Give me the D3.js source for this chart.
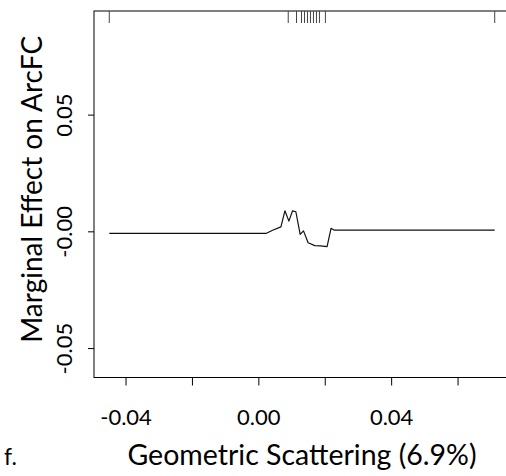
<!DOCTYPE html>
<html>
<head>
<meta charset="utf-8">
<script src="https://cdn.jsdelivr.net/npm/d3@7"></script>
<style>
  html, body { margin: 0; padding: 0; background: #fff; }
  svg { display: block; }
  text { font-family: Lato, "Open Sans", sans-serif; fill: #000; }
</style>
</head>
<body>
<svg id="chart" width="506" height="476"></svg>
<script>
// Marginal effect curve (x = geometric scattering, y = effect on ArcFC)
const effectX = [-0.0449, 0.0023, 0.0043, 0.0068, 0.0080, 0.0092, 0.0103, 0.0113, 0.0126,
                 0.0136, 0.0150, 0.0170, 0.0187, 0.0207, 0.0219, 0.0229, 0.0712];
const effectY = [-0.0007, -0.0007, 0.0007, 0.0021, 0.0090, 0.0046, 0.0090, 0.0086, -0.0011,
                 0.0004, -0.0047, -0.0059, -0.0060, -0.0063, 0.0015, 0.0007, 0.0007];

// Observed predictor values shown as a rug along the top edge
const rugX = [-0.0449, 0.0090, 0.0115, 0.0130, 0.0139, 0.0148, 0.0157, 0.0166, 0.0175, 0.0184, 0.0202, 0.0712];

const xTicks = [-0.04, -0.02, 0.00, 0.02, 0.04, 0.06];
const xTickLabels = ["-0.04", "", "0.00", "", "0.04", ""];
const yTicks = [-0.05, 0.00, 0.05];
const yTickLabels = ["-0.05", "-0.00", "0.05"];

const xTitle = "Geometric Scattering (6.9%)";
const yTitle = "Marginal Effect on ArcFC";
const panelTag = "f.";

const svg = d3.select("#chart");
const plotLeft = 94, plotRight = 510, plotTop = 11, plotBottom = 377.5;

const x = d3.scaleLinear().domain([-0.0495, 0.0758]).range([plotLeft, plotRight]);
const y = d3.scaleLinear().domain([-0.0624, 0.0946]).range([plotBottom, plotTop]);

// plot frame
svg.append("rect")
  .attr("x", plotLeft).attr("y", plotTop)
  .attr("width", plotRight - plotLeft).attr("height", plotBottom - plotTop)
  .attr("fill", "none").attr("stroke", "#000").attr("stroke-width", 1);

// x axis
const xAxis = d3.axisBottom(x)
  .tickValues(xTicks)
  .tickSize(8)
  .tickPadding(24)
  .tickFormat((d, i) => xTickLabels[i]);
const gx = svg.append("g").attr("transform", `translate(0,${plotBottom})`).call(xAxis);
gx.select(".domain").remove();
gx.selectAll("line").attr("stroke", "#000");
gx.selectAll("text").style("font-size", "22px").attr("font-family", null);

// y axis
const yAxis = d3.axisLeft(y)
  .tickValues(yTicks)
  .tickSize(6)
  .tickPadding(0)
  .tickFormat((d, i) => yTickLabels[i]);
const gy = svg.append("g").attr("transform", `translate(${plotLeft},0)`).call(yAxis);
gy.select(".domain").remove();
gy.selectAll("line").attr("stroke", "#000");
gy.selectAll(".tick").attr("transform", null);
gy.selectAll(".tick line").attr("y1", d => y(d)).attr("y2", d => y(d));
gy.selectAll("text")
  .style("font-size", "22px")
  .attr("font-family", null)
  .attr("x", null).attr("dy", null).attr("y", null)
  .attr("text-anchor", "middle")
  .attr("transform", d => `translate(${72 - plotLeft},${y(d)}) rotate(-90)`);

// rug along the top
svg.append("g").selectAll("line")
  .data(rugX)
  .join("line")
  .attr("x1", d => x(d)).attr("x2", d => x(d))
  .attr("y1", plotTop).attr("y2", plotTop + 12)
  .attr("stroke", "#444").attr("stroke-width", 1);

// effect curve
const pts = effectX.map((v, i) => [v, effectY[i]]);
svg.append("path")
  .datum(pts)
  .attr("fill", "none")
  .attr("stroke", "#111")
  .attr("stroke-width", 1.2)
  .attr("stroke-linejoin", "round")
  .attr("d", d3.line().x(d => x(d[0])).y(d => y(d[1])));

// titles
svg.append("text")
  .attr("x", (plotLeft + plotRight) / 2).attr("y", 465)
  .attr("text-anchor", "middle")
  .style("font-size", "28.5px")
  .text(xTitle);

svg.append("text")
  .attr("transform", `translate(42,${(plotTop + plotBottom) / 2 - 5}) rotate(-90)`)
  .attr("text-anchor", "middle")
  .style("font-size", "28px")
  .text(yTitle);

svg.append("text")
  .attr("x", 4).attr("y", 465)
  .style("font-size", "23px")
  .text(panelTag);
</script>
</body>
</html>
